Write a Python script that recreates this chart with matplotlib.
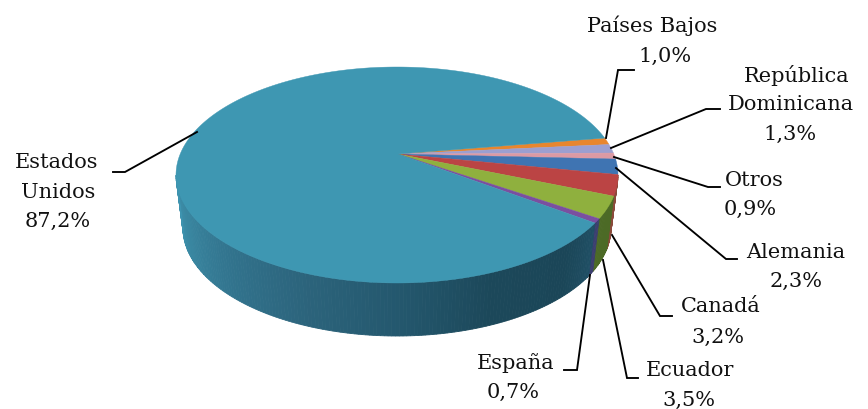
import matplotlib
matplotlib.use('Agg')
import matplotlib.pyplot as plt
import numpy as np

# slices, clockwise from the top edge of the orange one
names = ['Países Bajos', 'República\nDominicana', 'Otros', 'Alemania', 'Canadá', 'Ecuador', 'España', 'Estados\nUnidos']
values = [1.0, 1.3, 0.9, 2.3, 3.2, 3.5, 0.7, 87.2]

top_colors = ['#e8862e', '#9c9fd0', '#dc9aa4', '#3f74b2', '#bb4444', '#8fb03e', '#7a4fa0', '#3e97b2']
side_colors = ['#a05a18', '#6a6d90', '#986a70', '#2a4f7a', '#8a4a3a', '#4c6a26', '#3c3f70', None]

# shading round the side of the big slice (angle in degrees, colour)
side_angles = [-180, -165, -140, -115, -90, -65, -40, -26]
side_r = [62, 58, 50, 44, 36, 28, 27, 32]
side_g = [148, 136, 116, 100, 88, 72, 70, 80]
side_b = [176, 162, 142, 124, 110, 90, 88, 102]

# pixel geometry of the pie
cx, cy, rx, ry = 397, 175, 221, 108
apex = (398, 154)
depth = 53
shrink = 7  # lower rim is a bit narrower, perspective
start = 20

# leader lines, same order as names
leaders = [
    [(606, 138), (618, 70), (634, 70)],
    [(611, 148), (706, 109), (720, 109)],
    [(614, 157), (708, 187), (720, 187)],
    [(616, 168), (726, 259), (737, 259)],
    [(612, 235), (660, 316), (672, 316)],
    [(603, 260), (627, 378), (638, 378)],
    [(590, 275), (577, 370), (564, 370)],
    [(197, 132), (125, 172), (113, 172)],
]
# text line positions (centre x, centre y), last one is the percentage
label_pos = [
    [(652, 26), (665, 56)],
    [(797, 76), (791, 105), (790, 134)],
    [(754, 180), (750, 209)],
    [(796, 252), (796, 281)],
    [(721, 307), (718, 337)],
    [(690, 370), (689, 400)],
    [(516, 363), (513, 392)],
    [(57, 162), (58, 192), (58, 221)],
]

fig = plt.figure(figsize=(8.68, 4.09), dpi=100)
ax = fig.add_axes([0, 0, 1, 1])
ax.set_xlim(0, 868)
ax.set_ylim(409, 0)
ax.axis('off')

spans = np.array(values) / sum(values) * 360
ends = start - np.cumsum(spans)
starts = ends + spans


def arc(a, b, n, r=rx, dy=0):
    t = np.radians(np.linspace(a, b, n))
    return cx + r * np.cos(t), cy + dy - ry * np.sin(t)


# side wall, only the part facing us (angles below 0 and down to -180)
for i in range(len(values)):
    a = starts[i]
    b = ends[i]
    if a > 180:
        a -= 360
        b -= 360
    a = min(a, 0)
    b = max(b, -180)
    if a <= b:
        continue
    steps = np.append(np.arange(a, b, -1.0), b)
    for s0, s1 in zip(steps[:-1], steps[1:]):
        x, y = arc(s0, s1, 3)
        x2, y2 = arc(s1, s0, 3, r=rx - shrink, dy=depth)
        if side_colors[i] is None:
            mid = (s0 + s1) / 2
            col = (np.interp(mid, side_angles, side_r) / 255,
                   np.interp(mid, side_angles, side_g) / 255,
                   np.interp(mid, side_angles, side_b) / 255)
        else:
            col = side_colors[i]
        ax.fill(np.r_[x, x2], np.r_[y, y2], color=col, lw=0.6, zorder=2)

# top face
for i in range(len(values)):
    x, y = arc(starts[i], ends[i], max(int(spans[i]) * 2, 8))
    ax.fill(np.r_[apex[0], x], np.r_[apex[1], y], color=top_colors[i], lw=0.3, zorder=3)

for pts in leaders:
    ax.plot([p[0] for p in pts], [p[1] for p in pts], color='black', lw=1.35,
            solid_joinstyle='miter', zorder=4)

for name, val, pos in zip(names, values, label_pos):
    lines = name.split('\n') + [f'{val:.1f}'.replace('.', ',') + '%']
    for txt, (px, py) in zip(lines, pos):
        ax.text(px, py, txt, ha='center', va='center', fontsize=15,
                family='DejaVu Serif', color='#111111', zorder=5)

fig.savefig('out.png', dpi=100)
